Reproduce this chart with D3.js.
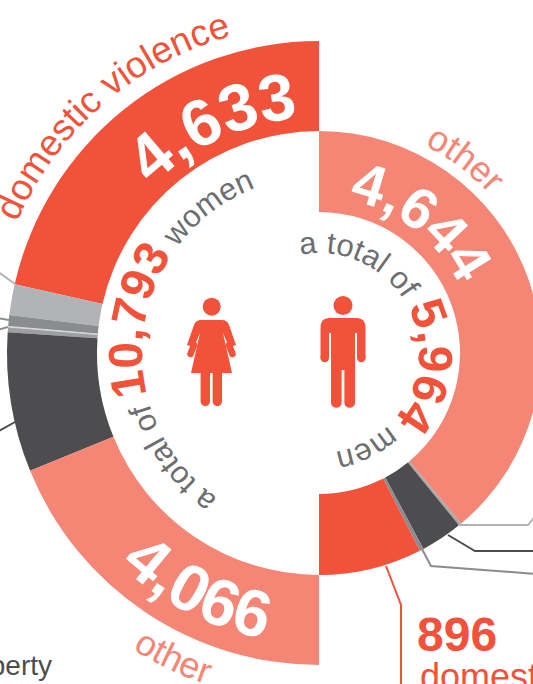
<!DOCTYPE html>
<html>
<head>
<meta charset="utf-8">
<script src="https://cdn.jsdelivr.net/npm/d3@7"></script>
<style>
  html, body { margin: 0; padding: 0; background: #fff; overflow: hidden; }
  text { font-family: "Liberation Sans Narrow", "Liberation Sans", sans-serif; }
</style>
</head>
<body>
<svg id="chart" width="533" height="684"></svg>
<script>
// values
const womenGroups = ["domestic violence", "property", "group b", "group c", "group d", "other"];
const womenValues = [4633, 345, 125, 65, 1559, 4066];
const menGroups = ["other", "group a", "group b", "group c", "domestic violence"];
const menValues = [4644, 25, 365, 34, 896];
const womenTotal = "10,793";
const menTotal = "5,964";

const red = "#f2523a", pink = "#f58675", dark = "#4d4d4f", light = "#b1b3b6", mid = "#8b8c8f", grey = "#6d6e71";
const womenColors = [red, light, mid, "#9d9fa2", dark, pink];
const menColors = [pink, "#a7a9ac", dark, "#8b8c8f", red];

const cx = 319, cy = 353;
const svg = d3.select("#chart");
const defs = svg.append("defs");
const chart = svg.append("g").attr("transform", `translate(${cx},${cy})`);

// women run anticlockwise down the left half, men clockwise down the right
const womenPie = d3.pie().sort(null).startAngle(0).endAngle(-Math.PI);
const menPie = d3.pie().sort(null).startAngle(0).endAngle(Math.PI);
const womenArc = d3.arc().innerRadius(222).outerRadius(312);
const menArc = d3.arc().innerRadius(141).outerRadius(222);

chart.append("g").selectAll("path")
  .data(womenPie(womenValues))
  .enter().append("path")
  .attr("d", womenArc)
  .attr("fill", (d, i) => womenColors[i]);

chart.append("g").selectAll("path")
  .data(menPie(menValues))
  .enter().append("path")
  .attr("d", menArc)
  .attr("fill", (d, i) => menColors[i]);

// hairline between the two thin grey slices
const thin = womenPie(womenValues)[3];
chart.append("path")
  .attr("d", d3.arc().innerRadius(222).outerRadius(312)({startAngle: thin.startAngle, endAngle: thin.startAngle - 0.002}))
  .attr("stroke", "#d8d9da").attr("stroke-width", 1).attr("fill", "none");

// leader lines
const leaders = [
  {c: light, w: 2, p: [[458, 525], [528, 525], [536, 515]]},
  {c: dark, w: 2, p: [[448, 535], [475, 551], [536, 551]]},
  {c: mid, w: 2, p: [[422, 549], [431, 566], [536, 574]]},
  {c: red, w: 2, p: [[386, 566], [401, 605], [401, 690]]},
  {c: light, w: 2, p: [[15, 284], [-3, 271]]},
  {c: mid, w: 2, p: [[9, 320], [-3, 318]]},
  {c: mid, w: 2, p: [[8, 327], [-3, 330]]},
  {c: dark, w: 2, p: [[15, 422], [-3, 432]]}
];
svg.append("g").selectAll("path")
  .data(leaders)
  .enter().append("path")
  .attr("d", d => d3.line()(d.p))
  .attr("fill", "none")
  .attr("stroke", d => d.c)
  .attr("stroke-width", d => d.w);

// text along a circle, angle in degrees clockwise from the top
let pathId = 0;
function curved(r, angle, clockwise) {
  const id = "curve" + (pathId++);
  const a0 = (angle + (clockwise ? -120 : 120)) * Math.PI / 180;
  const a1 = (angle + (clockwise ? 120 : -120)) * Math.PI / 180;
  const pt = a => [cx + r * Math.sin(a), cy - r * Math.cos(a)];
  const s = pt(a0), e = pt(a1);
  defs.append("path").attr("id", id)
    .attr("d", `M${s[0]},${s[1]}A${r},${r} 0 1 ${clockwise ? 1 : 0} ${e[0]},${e[1]}`);
  const t = svg.append("text").attr("text-anchor", "middle");
  return t.append("textPath").attr("href", "#" + id).attr("startOffset", "50%");
}
function label(str, r, angle, clockwise, size, color, weight) {
  curved(r, angle, clockwise).text(str)
    .attr("font-size", size).attr("fill", color).attr("font-weight", weight || "normal");
}

label("domestic violence", 329, -41, true, 37, red);
label(d3.format(",")(womenValues[0]), 236, -25, true, 66, "#fff", "bold");
label(d3.format(",")(womenValues[5]), 291, 207, false, 66, "#fff", "bold");
label("other", 350, 205.5, false, 36, pink);
label(d3.format(",")(menValues[0]), 156, 37.5, true, 58, "#fff", "bold");
label("other", 233, 37, true, 36, pink);

function totalLabel(r, angle, total, word) {
  const tp = curved(r, angle, true);
  tp.append("tspan").text("a total of ").attr("font-size", 31).attr("fill", grey);
  tp.append("tspan").text(total).attr("font-size", 48).attr("font-weight", "bold").attr("fill", red);
  tp.append("tspan").text(" " + word).attr("font-size", 31).attr("fill", grey);
}
totalLabel(177, -83, womenTotal, "women");
totalLabel(100, 80, menTotal, "men");

// callout bottom right and the label cut off bottom left
svg.append("text").attr("x", 417).attr("y", 651).attr("font-size", 48).attr("font-weight", "bold").attr("fill", red)
  .text(d3.format(",")(menValues[4]));
svg.append("text").attr("x", 420).attr("y", 689).attr("font-size", 36).attr("fill", red).text("domestic violence");
svg.append("text").attr("x", 52).attr("y", 675).attr("text-anchor", "end").attr("font-size", 28).attr("fill", dark).text("property");

// woman icon
const woman = svg.append("g").attr("fill", red).attr("stroke", "none");
woman.append("circle").attr("cx", 211.7).attr("cy", 306.7).attr("r", 9);
woman.append("path").attr("d", "M201,320H222Q227,320 229,325L236,345L229,347L223,333L232,373H191L200,333L194,347L187,345L194,325Q196,320 201,320Z");
woman.append("path").attr("d", "M190.5,354L194,345M232.5,354L229,345").attr("stroke", red).attr("stroke-width", 6.5).attr("stroke-linecap", "round");
woman.append("path").attr("d", "M205.3,372V401.5M217.3,372V401.5").attr("stroke", red).attr("stroke-width", 9.4).attr("stroke-linecap", "round");

// man icon
const man = svg.append("g").attr("fill", red).attr("stroke", "none");
man.append("circle").attr("cx", 343).attr("cy", 305.5).attr("r", 9.5);
man.append("path").attr("d", "M329,318H357Q365.5,318 365.5,328V358H357V333H355V370H331V333H329V358H320.5V328Q320.5,318 329,318Z");
man.append("path").attr("d", "M324.7,358V357.5M361.3,358V357.5").attr("stroke", red).attr("stroke-width", 8.5).attr("stroke-linecap", "round");
man.append("path").attr("d", "M336.3,365V402.5M349.7,365V402.5").attr("stroke", red).attr("stroke-width", 10.6).attr("stroke-linecap", "round");
</script>
</body>
</html>
